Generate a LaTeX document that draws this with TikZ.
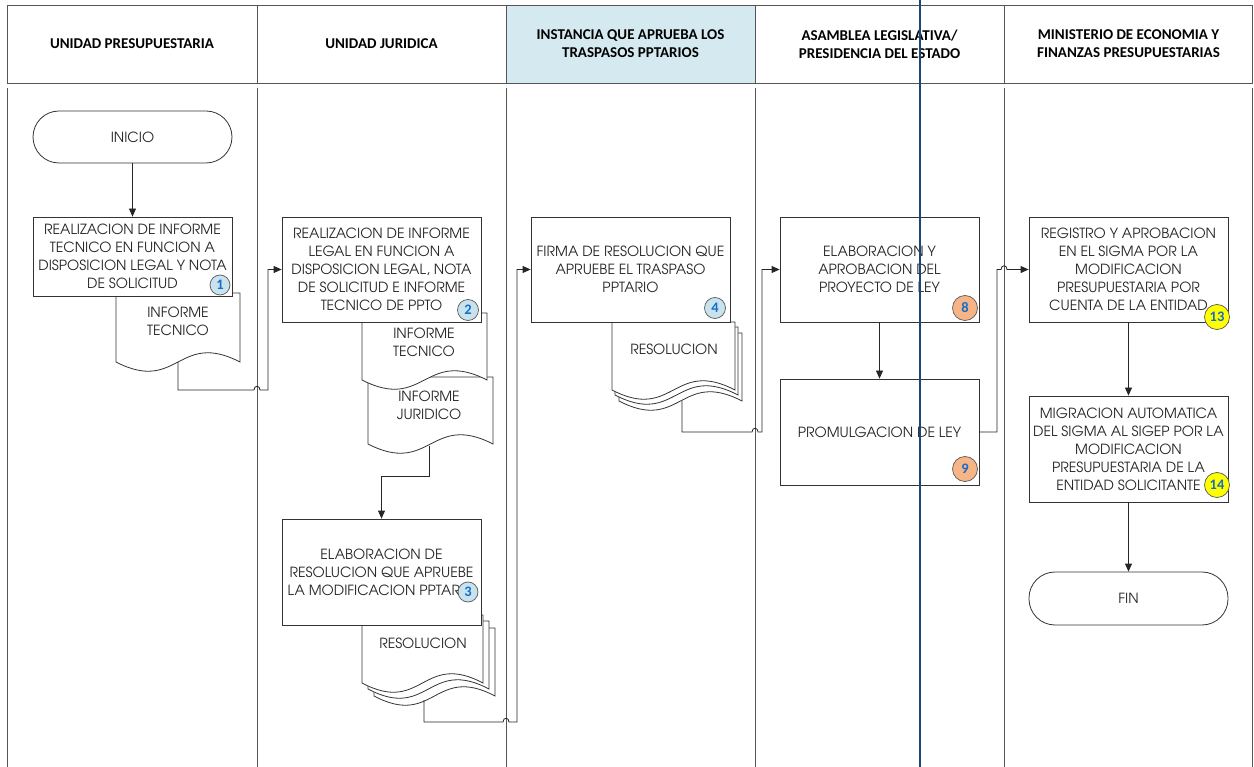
\documentclass[tikz,border=0pt]{standalone}
\usepackage{xcolor}
\usepackage{fontspec}
\setmainfont{TeX Gyre Adventor}
\newfontfamily\headfont{Carlito}
\usepackage{tikz}
\usetikzlibrary{positioning, arrows.meta}
\definecolor{lanegray}{RGB}{85,85,85}
\definecolor{headblue}{RGB}{213,234,240}
\definecolor{splitblue}{RGB}{25,72,118}
\definecolor{badgeblue}{RGB}{201,227,238}
\definecolor{numblue}{RGB}{20,110,200}
\definecolor{badgeorange}{RGB}{246,180,135}
\definecolor{badgeyellow}{RGB}{255,255,0}

% document symbol: left x, top y, right x, bottom y
\newcommand{\docshape}[4]{%
  \filldraw[docline] (#1,#2) -- (#3,#2) -- (#3,#4)
    .. controls ({(#1+#3)/2},{#4-32}) and ({(#1+#3)/2},{#4+32}) .. (#1,#4) -- cycle;}

\begin{document}
\begin{tikzpicture}[x=1pt, y=-1pt,
    lane/.style={draw=lanegray, line width=1pt},
    head/.style={align=center, font=\headfont\bfseries\fontsize{15}{18}\selectfont},
    box/.style={draw=black!80, fill=white, line width=0.8pt, minimum width=199pt,
        align=center, inner sep=2pt, text=black!85, font=\fontsize{14}{18}\selectfont},
    term/.style={box, rounded corners=26pt, minimum height=52pt},
    docline/.style={draw=black!80, fill=white, line width=0.8pt},
    doctext/.style={align=center, text=black!85, font=\fontsize{14}{18}\selectfont},
    badge/.style={circle, draw=black!65, line width=0.7pt, inner sep=0pt,
        text=numblue, font=\headfont\bfseries\fontsize{14.5}{14}\selectfont},
    flow/.style={draw=black!85, line width=0.8pt, -{Triangle[length=8pt,width=7pt]}},
]
    \useasboundingbox (0,0) rectangle (1254,767);

    % Swimlanes
    \fill[headblue] (506,6) rectangle (755,84);
    \foreach \xa/\xb in {7/257, 257/506, 506/755, 755/1004, 1004/1252.5} {
        \draw[lane] (\xa,6) rectangle (\xb,84);
        \draw[lane] (\xa,88) -- (\xa,767);
    }
    \draw[lane] (1252.5,88) -- (1252.5,767);

    \node[head] (h1) at (132,44) {UNIDAD PRESUPUESTARIA};
    \node[head] (h2) at (381.5,44) {UNIDAD JURIDICA};
    \node[head] (h3) at (630.5,44) {INSTANCIA QUE APRUEBA LOS\\TRASPASOS PPTARIOS};
    \node[head] (h4) at (879.5,44) {ASAMBLEA LEGISLATIVA/\\PRESIDENCIA DEL ESTADO};
    \node[head] (h5) at (1128.5,44) {MINISTERIO DE ECONOMIA Y\\FINANZAS PRESUPUESTARIAS};

    % Documents
    \docshape{116}{293}{240}{362}
    \node[doctext] (tec1) at (178,321) {INFORME\\TECNICO};
    \coordinate (tec1-out) at (178,362);

    \docshape{368}{377}{493}{444}
    \docshape{362}{313}{487}{380}
    \node[doctext] (tec2) at (424,342) {INFORME\\TECNICO};
    \node[doctext] (jur2) at (429,405) {INFORME\\JURIDICO};
    \coordinate (jur2-out) at (429,446);

    \foreach \dx/\dy in {12/13, 6/6, 0/0}
        \docshape{362+\dx}{615+\dy}{483+\dx}{683+\dy}
    \node[doctext] (res3) at (423,643) {RESOLUCION};
    \coordinate (res3-out) at (424,700);

    \foreach \dx/\dy in {7/11, 3/5, 0/0}
        \docshape{612+\dx}{322+\dy}{735+\dx}{390+\dy}
    \node[doctext] (res4) at (674,349) {RESOLUCION};
    \coordinate (res4-out) at (682,401);

    % Steps
    \node[term] (inicio) at (132.5,137) {INICIO};
    \node[box, minimum height=79pt] (b1) at (132.5,256.5)
        {REALIZACION DE INFORME\\TECNICO EN FUNCION A\\DISPOSICION LEGAL Y NOTA\\DE SOLICITUD};
    \node[box, minimum height=105pt] (b2) at (381.5,269.5)
        {REALIZACION DE INFORME\\LEGAL EN FUNCION A\\DISPOSICION LEGAL, NOTA\\DE SOLICITUD E INFORME\\TECNICO DE PPTO};
    \node[box, minimum height=106pt] (b3) at (381.5,572)
        {ELABORACION DE\\RESOLUCION QUE APRUEBE\\LA MODIFICACION PPTARIO};
    \node[box, minimum height=105pt] (b4) at (630.5,269.5)
        {FIRMA DE RESOLUCION QUE\\APRUEBE EL TRASPASO\\PPTARIO};
    \node[box, minimum height=105pt] (b8) at (879.5,269.5)
        {ELABORACION Y\\APROBACION DEL\\PROYECTO DE LEY};
    \node[box, minimum height=106pt] (b9) at (879.5,432) {PROMULGACION DE LEY};
    \node[box, minimum height=105pt] (b13) at (1128.5,269.5)
        {REGISTRO Y APROBACION\\EN EL SIGMA POR LA\\MODIFICACION\\PRESUPUESTARIA POR\\CUENTA DE LA ENTIDAD};
    \node[box, minimum height=106pt] (b14) at (1128.5,449)
        {MIGRACION AUTOMATICA\\DEL SIGMA AL SIGEP POR LA\\MODIFICACION\\PRESUPUESTARIA DE LA\\ENTIDAD SOLICITANTE};
    \node[term, minimum height=53pt] (fin) at (1128.5,598.5) {FIN};

    % Step numbers
    \node[badge, fill=badgeblue, minimum size=20pt] (n1) at (220,285) {1};
    \node[badge, fill=badgeblue, minimum size=21pt] (n2) at (468,310) {2};
    \node[badge, fill=badgeblue, minimum size=20pt] (n3) at (468,592) {3};
    \node[badge, fill=badgeblue, minimum size=21pt] (n4) at (715,308) {4};
    \node[badge, fill=badgeorange, minimum size=25pt] (n8) at (965,308) {8};
    \node[badge, fill=badgeorange, minimum size=25pt] (n9) at (965,469) {9};
    \node[badge, fill=badgeyellow, minimum size=25pt] (n13) at (1217,317) {13};
    \node[badge, fill=badgeyellow, minimum size=25pt] (n14) at (1217,485) {14};

    % Connectors
    \draw[flow] (inicio) -- (b1);
    \draw[flow] (tec1-out) |- (254,390) .. controls +(0,-5) and +(0,-5) .. ++(6,0)
        -- (268,390) |- (b2);
    \draw[flow] (jur2-out) |- (381.5,476) -- (b3);
    \draw[flow] (res3-out) |- (503,722) .. controls +(0,-5) and +(0,-5) .. ++(6,0)
        -- (517,722) |- (b4);
    \draw[flow] (res4-out) |- (752,432) .. controls +(0,-5) and +(0,-5) .. ++(6,0)
        -- (762,432) |- (b8);
    \draw[flow] (b8) -- (b9);
    \draw[flow] (b9.east) -- (997,432) |- (1001,269.5)
        .. controls +(0,-5) and +(0,-5) .. ++(6,0) -- (b13);
    \draw[flow] (b13) -- (b14);
    \draw[flow] (b14) -- (fin);

    % Divider
    \draw[splitblue, line width=2pt] (920,0) -- (920,767);
\end{tikzpicture}
\end{document}
